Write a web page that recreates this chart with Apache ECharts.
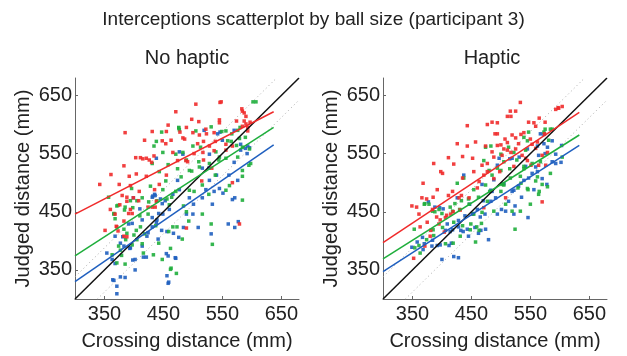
<!DOCTYPE html>
<html><head><meta charset="utf-8">
<script src="https://cdn.jsdelivr.net/npm/echarts@6/dist/echarts.min.js"></script>
<style>html,body{margin:0;padding:0;background:#fff}#c{width:627px;height:356px}</style>
</head><body><div id="c"></div>
<script>
var tickValues = [350, 450, 550, 650];
var panelTitles = ['No haptic', 'Haptic'];

// No haptic scatter points [crossing, judged]
var noHapticRed = [[342,497],[361,514],[375,497],[351,418],[385,586],[383,529],[392,511],[403,543],[404,515],[409,485],[411,543],[415,541],[421,542],[426,539],[430,535],[434,546],[418,573],[431,588],[448,572],[454,567],[455,588],[458,599],[463,573],[471,622],[466,552],[478,587],[486,575],[489,595],[498,609],[505,635],[510,605],[511,582],[518,571],[522,592],[528,563],[536,586],[545,608],[546,638],[532,525],[515,503],[502,550],[491,536],[455,513],[443,497],[435,488],[421,511],[394,495],[399,474],[388,468],[376,462],[368,446],[370,425],[373,417],[383,434],[394,454],[360,454],[388,407],[424,458],[438,468],[489,422],[567,500],[579,429],[583,627],[587,620],[590,601],[593,595],[597,604],[574,606],[556,556],[518,539],[538,571],[567,563],
  [500,586],[523,584],[483,577],[508,567],[517,552],[536,555],[545,603],[548,639],[584,623],[590,614],[587,606],[584,597],[593,589],[556,566],[474,538],[488,538],
  [380,478],[388,475],[408,469],[431,458],[371,424],[391,447],[397,447],[383,408],[436,458]];
var noHapticGreen = [[357,475],[366,446],[371,460],[377,384],[383,420],[386,402],[379,375],[396,490],[398,457],[404,418],[410,443],[414,474],[414,395],[418,412],[424,446],[428,494],[431,533],[434,563],[438,571],[443,519],[447,587],[449,488],[454,503],[458,531],[460,462],[462,387],[466,424],[476,595],[477,591],[463,353],[472,344],[484,460],[489,539],[493,434],[498,520],[502,485],[510,536],[513,561],[516,446],[527,480],[531,429],[533,394],[538,513],[539,553],[549,588],[544,539],[556,542],[562,495],[565,571],[574,564],[580,595],[589,578],[584,511],[595,530],[584,470],[602,639],[579,576],[482,403],[437,426],[449,552],[471,485],[516,496],[489,450],
  [476,594],[471,549],[483,552],[500,563],[505,589],[531,596],[556,589],[566,584],[576,590],[559,572],[584,561],[596,558],[545,544],[528,533],[511,527],[494,521],[480,510],[474,524],[584,521],[598,533],[576,544],[607,639],[494,487],[556,487],
  [373,461],[368,438],[366,447],[385,458],[384,453],[394,469],[405,469],[425,467],[439,469],[456,472],[464,475],[388,413],[400,410],[405,402],[397,393],[374,391],[363,376],[371,362],[385,360],[416,379],[433,376],[448,368],[462,351],[459,416],[473,424],[442,396],[411,424]];
var noHapticBlue = [[371,322],[364,333],[377,338],[368,361],[381,407],[391,429],[393,387],[398,367],[402,350],[416,372],[421,372],[424,414],[432,477],[435,480],[438,432],[441,403],[447,418],[449,446],[455,378],[458,327],[458,374],[460,454],[471,370],[476,406],[477,488],[484,423],[489,446],[494,474],[501,463],[509,423],[516,474],[527,525],[531,412],[533,463],[540,513],[546,587],[551,482],[560,429],[561,513],[567,471],[571,474],[571,423],[577,433],[581,556],[589,559],[596,560],[592,550],[519,590],[516,525],[466,480],[500,446],[477,553],[438,542],[399,474],[410,455],[431,440],[522,488],
  [542,584],[550,573],[570,590],[581,566],[593,563],[528,549],[483,549],[474,504],[528,504],[576,504],[545,490],[536,485],[570,535],
  [368,408],[354,379],[363,368],[377,396],[383,391],[394,388],[402,368],[414,391],[422,408],[431,424],[439,436],[442,447],[448,464],[456,416],[467,413],[470,371],[459,329],[456,340],[385,337],[366,332],[371,309],[431,475],[436,478],[445,472],[414,436],[397,430],[453,469]];

// Haptic scatter points [crossing, judged]
var hapticRed = [[349,460],[352,370],[361,446],[366,474],[368,499],[375,432],[384,454],[386,533],[392,488],[395,429],[398,519],[401,516],[406,440],[411,543],[415,446],[418,485],[420,532],[426,567],[429,474],[435,545],[443,598],[443,563],[446,474],[452,542],[454,519],[457,570],[460,491],[463,502],[468,530],[474,563],[477,519],[485,604],[485,553],[490,584],[494,564],[498,519],[500,565],[502,547],[507,575],[511,556],[511,614],[516,623],[519,582],[522,528],[530,567],[533,638],[536,547],[542,542],[547,604],[550,575],[559,559],[562,570],[564,530],[570,467],[574,584],[575,604],[576,530],[593,626],[597,629],[508,474],[471,457],[435,508],[381,418],[404,415],
  [477,600],[494,603],[494,584],[517,614],[525,623],[556,603],[559,597],[565,611],[525,577],[534,583],[539,586],[511,569],[505,558],[517,552],[525,558],[553,566],[570,547],[579,552],[598,628],[604,631],[477,533],[488,544],[471,513],[545,538],[551,530],[488,507],
  [357,458],[374,472],[385,475],[411,478],[433,478],[363,424],[391,441],[397,436],[408,444],[419,450],[431,453],[380,408],[371,391]];
var hapticGreen = [[353,420],[361,392],[370,463],[378,463],[384,451],[386,409],[395,454],[401,423],[406,395],[418,451],[420,432],[426,499],[430,454],[435,426],[437,508],[446,463],[449,429],[454,446],[457,398],[463,418],[468,449],[474,561],[477,468],[481,485],[485,513],[488,451],[494,525],[500,485],[505,536],[508,463],[513,561],[516,508],[519,451],[524,420],[527,539],[529,491],[533,451],[533,511],[539,528],[542,556],[546,488],[550,463],[553,533],[559,503],[564,480],[567,536],[573,587],[575,592],[581,573],[584,516],[587,592],[570,497],[539,578],[547,587],[502,497],[454,488],
  [483,563],[522,552],[500,549],[471,538],[480,521],[500,521],[515,524],[539,524],[474,496],[505,496],[534,499],[545,490],[565,485],[579,493],[562,510],[584,592],[545,572],[604,544],
  [371,464],[388,450],[400,447],[414,458],[422,464],[433,469],[445,472],[462,475],[467,430],[459,424],[448,419],[385,419],[374,402],[354,388],[363,379],[431,408],[419,396]];
var hapticBlue = [[349,389],[358,398],[367,406],[370,395],[384,401],[392,392],[396,457],[400,368],[406,418],[409,429],[412,392],[420,373],[418,419],[428,435],[432,418],[439,443],[443,420],[447,463],[452,446],[456,423],[460,454],[466,418],[468,497],[473,446],[474,420],[479,402],[483,468],[485,485],[488,505],[491,474],[494,446],[501,454],[505,498],[508,451],[513,468],[519,485],[522,446],[524,460],[530,494],[535,475],[542,528],[546,440],[547,508],[556,488],[562,519],[564,547],[567,584],[573,567],[575,550],[578,497],[587,536],[593,533],[603,564],[519,542],[497,542],[426,474],[437,513],
  [494,530],[515,541],[531,544],[545,558],[562,563],[579,561],[573,583],[587,572],[593,549],[602,535],[559,527],[553,516],[570,507],[539,504],[522,487],[483,487],
  [377,467],[388,458],[402,455],[428,424],[436,416],[445,408],[414,416],[416,396],[397,393],[383,391],[368,385],[465,441],[453,447],[462,413],[428,371],[470,469]];

// Regression line endpoints [crossing, judged]
var noHapticRedFit = [[300,446],[637,622]];
var noHapticGreenFit = [[300,374],[637,595]];
var noHapticBlueFit = [[300,330],[637,565]];
var hapticRedFit = [[300,397],[633,621]];
var hapticGreenFit = [[300,369],[633,582]];
var hapticBlueFit = [[300,347],[633,564]];

// Reference lines
var identityLine = [[300,300],[680,680]];
var upperBand = [[300,338],[642,680]];
var lowerBand = [[338,300],[680,642]];

var RED = '#f02b2b', GREEN = '#1fae3c', BLUE = '#1f5fbf';
var FONT = '"Liberation Sans", Arial, sans-serif';

var chart = echarts.init(document.getElementById('c'), null, {renderer: 'canvas'});

var grids = [
  {left: 75, top: 78, width: 224, height: 225},
  {left: 383, top: 78, width: 224, height: 225}
];

function xAxis(i) {
  return {
    gridIndex: i, type: 'value', min: 300, max: 680,
    name: 'Crossing distance (mm)', nameLocation: 'middle', nameGap: 32,
    nameTextStyle: {fontFamily: FONT, fontSize: 20, color: '#222'},
    axisLine: {show: true, lineStyle: {color: '#666', width: 1}},
    axisTick: {show: true, inside: true, length: 3, customValues: tickValues, lineStyle: {color: '#666'}},
    axisLabel: {customValues: tickValues, fontFamily: FONT, fontSize: 20, color: '#222', margin: 5},
    splitLine: {show: false}
  };
}
function yAxis(i) {
  return {
    gridIndex: i, type: 'value', min: 300, max: 680,
    name: 'Judged distance (mm)', nameLocation: 'middle', nameGap: 42,
    nameTextStyle: {fontFamily: FONT, fontSize: 20, color: '#222'},
    axisLine: {show: true, lineStyle: {color: '#666', width: 1}},
    axisTick: {show: true, inside: true, length: 3, customValues: tickValues, lineStyle: {color: '#666'}},
    axisLabel: {customValues: tickValues, fontFamily: FONT, fontSize: 20, color: '#222', margin: 3},
    splitLine: {show: false}
  };
}

function scatter(i, data, color) {
  return {type: 'scatter', xAxisIndex: i, yAxisIndex: i, data: data, symbol: 'rect', symbolSize: 3.5,
    itemStyle: {color: color, opacity: 0.9}, silent: true, z: 3};
}
function line(i, data, color, width, type, z) {
  return {type: 'line', xAxisIndex: i, yAxisIndex: i, data: data, symbol: 'none',
    lineStyle: {color: color, width: width, type: type}, silent: true, z: z};
}

var series = [];
var panels = [
  {red: noHapticRed, green: noHapticGreen, blue: noHapticBlue, rf: noHapticRedFit, gf: noHapticGreenFit, bf: noHapticBlueFit},
  {red: hapticRed, green: hapticGreen, blue: hapticBlue, rf: hapticRedFit, gf: hapticGreenFit, bf: hapticBlueFit}
];
panels.forEach(function (p, i) {
  series.push(line(i, upperBand, '#aaaaaa', 1, [1, 3], 2));
  series.push(line(i, lowerBand, '#aaaaaa', 1, [1, 3], 2));
  series.push(scatter(i, p.blue, BLUE));
  series.push(scatter(i, p.green, GREEN));
  series.push(scatter(i, p.red, RED));
  series.push(line(i, identityLine, '#111', 1.5, 'solid', 4));
  series.push(line(i, p.rf, RED, 1.5, 'solid', 5));
  series.push(line(i, p.gf, GREEN, 1.5, 'solid', 5));
  series.push(line(i, p.bf, BLUE, 1.5, 'solid', 5));
});

chart.setOption({
  animation: false,
  backgroundColor: '#fff',
  title: [
    {text: 'Interceptions scatterplot by ball size (participant 3)', left: 'center', top: 5,
      textStyle: {fontFamily: FONT, fontSize: 19, fontWeight: 'normal', color: '#222'}},
    {text: panelTitles[0], left: 182, textAlign: 'center', top: 43,
      textStyle: {fontFamily: FONT, fontSize: 20, fontWeight: 'normal', color: '#222'}},
    {text: panelTitles[1], left: 487, textAlign: 'center', top: 43,
      textStyle: {fontFamily: FONT, fontSize: 20, fontWeight: 'normal', color: '#222'}}
  ],
  grid: grids,
  xAxis: [xAxis(0), xAxis(1)],
  yAxis: [yAxis(0), yAxis(1)],
  series: series
});
</script>
</body></html>
